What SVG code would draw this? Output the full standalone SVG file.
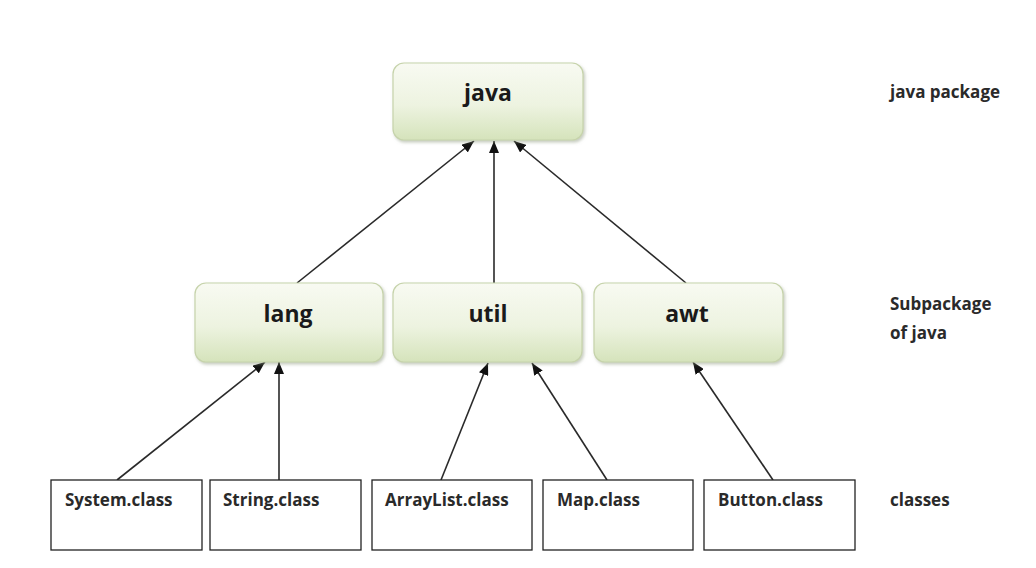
<svg xmlns="http://www.w3.org/2000/svg" width="1036" height="568" viewBox="0 0 1036 568">
  <style>
    .pkg { fill: url(#pkgFill); stroke: #c6d3ab; stroke-width: 1.2; filter: url(#soft); }
    .cls { fill: #ffffff; stroke: #222222; stroke-width: 1.3; }
    .pkgText { font-family: "Open Sans", "Liberation Sans", sans-serif; font-weight: 700; font-size: 23px; fill: #1a1a1a; text-anchor: middle; }
    .clsText { font-family: "Open Sans", "Liberation Sans", sans-serif; font-weight: 700; font-size: 17px; fill: #2a2a2a; }
    .note { font-family: "Open Sans", "Liberation Sans", sans-serif; font-weight: 700; font-size: 17px; fill: #2a2a2a; }
    .edge { stroke: #2a2a2a; stroke-width: 1.6; fill: none; marker-end: url(#head); }
  </style>
  <defs>
    <linearGradient id="pkgFill" x1="0" y1="0" x2="0" y2="1">
      <stop offset="0" stop-color="#f8faf2"/>
      <stop offset="0.55" stop-color="#edf3e0"/>
      <stop offset="1" stop-color="#d5e3bb"/>
    </linearGradient>
    <filter id="soft" x="-10%" y="-10%" width="125%" height="130%">
      <feDropShadow dx="1.5" dy="2" stdDeviation="1.5" flood-color="#8f9a80" flood-opacity="0.5"/>
    </filter>
    <marker id="head" viewBox="0 0 12 10" refX="12" refY="5" markerWidth="12" markerHeight="10" markerUnits="userSpaceOnUse" orient="auto">
      <path d="M0,0 L12,5 L0,10 Z" fill="#111111"/>
    </marker>
  </defs>

  <rect width="1036" height="568" fill="#ffffff"/>

  <!-- connectors -->
  <g id="connectors">
    <line class="edge" x1="297" y1="283" x2="474" y2="141"/>
    <line class="edge" x1="494" y1="283" x2="494" y2="141"/>
    <line class="edge" x1="686" y1="283" x2="514" y2="141"/>
    <line class="edge" x1="117" y1="480" x2="265" y2="362"/>
    <line class="edge" x1="279" y1="480" x2="279" y2="362"/>
    <line class="edge" x1="441" y1="480" x2="488" y2="363"/>
    <line class="edge" x1="607" y1="480" x2="532" y2="363"/>
    <line class="edge" x1="773" y1="480" x2="693" y2="362"/>
  </g>

  <!-- packages -->
  <g id="java">
    <rect class="pkg" x="393" y="63" width="190" height="77" rx="11"/>
    <text class="pkgText" x="488" y="101">java</text>
  </g>
  <g id="lang">
    <rect class="pkg" x="195" y="283" width="188" height="79" rx="11"/>
    <text class="pkgText" x="288" y="322">lang</text>
  </g>
  <g id="util">
    <rect class="pkg" x="393" y="283" width="189" height="79" rx="11"/>
    <text class="pkgText" x="488" y="322">util</text>
  </g>
  <g id="awt">
    <rect class="pkg" x="594" y="283" width="189" height="79" rx="11"/>
    <text class="pkgText" x="687" y="322">awt</text>
  </g>

  <!-- classes -->
  <g id="system-class">
    <rect class="cls" x="51" y="480" width="151" height="70"/>
    <text class="clsText" x="65" y="506">System.class</text>
  </g>
  <g id="string-class">
    <rect class="cls" x="210" y="480" width="151" height="70"/>
    <text class="clsText" x="223" y="506">String.class</text>
  </g>
  <g id="arraylist-class">
    <rect class="cls" x="372" y="480" width="160" height="70"/>
    <text class="clsText" x="385" y="506">ArrayList.class</text>
  </g>
  <g id="map-class">
    <rect class="cls" x="543" y="480" width="150" height="70"/>
    <text class="clsText" x="557" y="506">Map.class</text>
  </g>
  <g id="button-class">
    <rect class="cls" x="704" y="480" width="151" height="70"/>
    <text class="clsText" x="718" y="506">Button.class</text>
  </g>

  <!-- level captions -->
  <g id="captions">
    <text class="note" x="890" y="98">java package</text>
    <text class="note" x="890" y="310">Subpackage</text>
    <text class="note" x="890" y="339">of  java</text>
    <text class="note" x="890" y="506">classes</text>
  </g>
</svg>
